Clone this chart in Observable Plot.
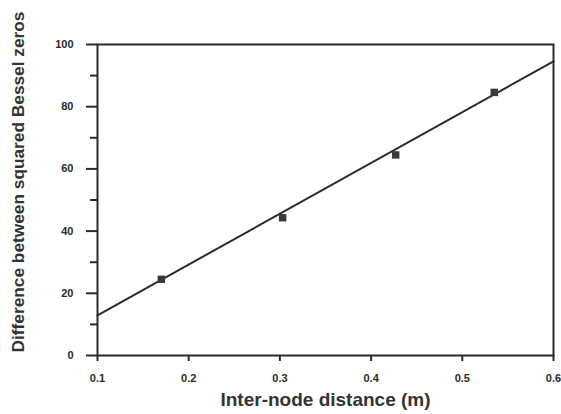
<!DOCTYPE html>
<html>
<head>
<meta charset="utf-8">
<script src="https://cdn.jsdelivr.net/npm/d3@7"></script>
<script src="https://cdn.jsdelivr.net/npm/@observablehq/plot@0.6"></script>
<style>
  html, body { margin: 0; padding: 0; background: #fff; }
  #chart { width: 561px; height: 414px; overflow: hidden; }
  svg { font-family: "Liberation Sans", Arial, sans-serif; }
</style>
</head>
<body>
<div id="chart"></div>
<script>
// Data
const nodeDistance = [0.170, 0.303, 0.427, 0.535];
const besselDiff = [24.5, 44.3, 64.5, 84.6];
const fitX = [0.1, 0.6];
const fitY = [12.9, 94.6];
const xTicks = [0.1, 0.2, 0.3, 0.4, 0.5, 0.6];
const yTicks = [0, 20, 40, 60, 80, 100];
const yMinorTicks = [10, 30, 50, 70, 90];
const xLabel = "Inter-node distance (m)";
const yLabel = "Difference between squared Bessel zeros";

const points = nodeDistance.map((x, i) => ({x, y: besselDiff[i]}));
const fit = fitX.map((x, i) => ({x, y: fitY[i]}));

const ink = "#2a2a2a";

const chart = Plot.plot({
  width: 561,
  height: 414,
  marginLeft: 97,
  marginRight: 8,
  marginTop: 44,
  marginBottom: 59,
  style: {background: "#fff", color: ink, overflow: "visible"},
  x: {domain: [0.1, 0.6]},
  y: {domain: [0, 100]},
  marks: [
    Plot.frame({stroke: ink, strokeWidth: 2}),
    Plot.axisX({ticks: xTicks, tickSize: 6, tickPadding: 13, tickFormat: d3.format(".1f"),
      fontSize: 11, fontWeight: "bold", label: null, strokeWidth: 2}),
    Plot.axisY({ticks: yMinorTicks, tickSize: 7, tickFormat: () => "", label: null, strokeWidth: 2}),
    Plot.axisY({ticks: yTicks, tickSize: 11, tickPadding: 13, tickFormat: d3.format("d"),
      fontSize: 11, fontWeight: "bold", label: null, strokeWidth: 2}),
    Plot.line(fit, {x: "x", y: "y", stroke: ink, strokeWidth: 2}),
    Plot.dot(points, {x: "x", y: "y", symbol: "square", r: 4.2, fill: "#3a3a3a", stroke: "none"}),
    Plot.text([xLabel], {frameAnchor: "bottom", dy: 50, fontSize: 19, fontWeight: "bold", fill: "#333"}),
    Plot.text([yLabel], {frameAnchor: "left", textAnchor: "middle", dx: -79, dy: -18, rotate: -90,
      fontSize: 17.3, fontWeight: "bold", fill: "#333"})
  ]
});
document.getElementById("chart").appendChild(chart);
</script>
</body>
</html>
